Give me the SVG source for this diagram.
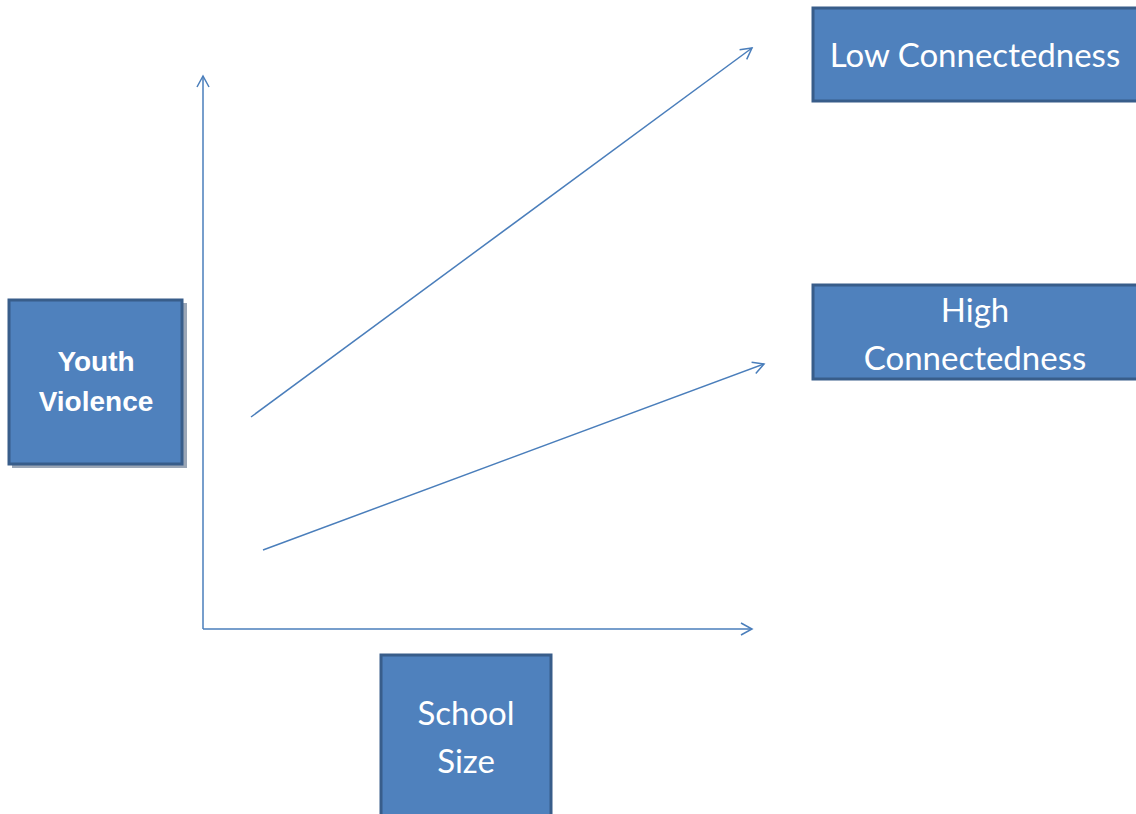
<svg xmlns="http://www.w3.org/2000/svg" width="1136" height="814" viewBox="0 0 1136 814">
<style>
.box{fill:#4f81bd;stroke:#385d8a;stroke-width:3}
.shadow{fill:#9aa6b6}
.lbl{fill:#ffffff;font-family:Lato,"Open Sans",sans-serif;font-size:33px;text-anchor:middle}
.bold{fill:#ffffff;font-family:"Liberation Sans",Arial,sans-serif;font-size:28px;font-weight:bold;text-anchor:middle}
.ln{stroke:#4a7ebb;stroke-width:1.5;fill:none}
</style>
<defs>
<marker id="arr" markerWidth="16" markerHeight="16" refX="13" refY="8" orient="auto" markerUnits="userSpaceOnUse">
<path d="M2,2 L13,8 L2,14" fill="none" stroke="#4a7ebb" stroke-width="1.5"/>
</marker>
</defs>
<g id="connectors">
<polyline class="ln" points="203,629 203,76" marker-end="url(#arr)"/>
<line class="ln" x1="203" y1="629" x2="752" y2="629" marker-end="url(#arr)"/>
<line class="ln" x1="251" y1="417" x2="752" y2="48" marker-end="url(#arr)"/>
<line class="ln" x1="263" y1="550" x2="764" y2="364" marker-end="url(#arr)"/>
</g>
<g id="youth-violence">
<rect class="shadow" x="12" y="303" width="175" height="165"/>
<rect class="box" x="9" y="300" width="173" height="164"/>
<text class="bold" x="96" y="371">Youth</text>
<text class="bold" x="96" y="411">Violence</text>
</g>
<g id="low-connectedness">
<rect class="box" x="813" y="8" width="330" height="93"/>
<text class="lbl" x="975" y="67">Low Connectedness</text>
</g>
<g id="high-connectedness">
<rect class="box" x="813" y="285" width="330" height="94"/>
<text class="lbl" x="975" y="322">High</text>
<text class="lbl" x="975" y="370">Connectedness</text>
</g>
<g id="school-size">
<rect class="box" x="381" y="655" width="170" height="170"/>
<text class="lbl" x="466" y="725">School</text>
<text class="lbl" x="466" y="773">Size</text>
</g>
</svg>
